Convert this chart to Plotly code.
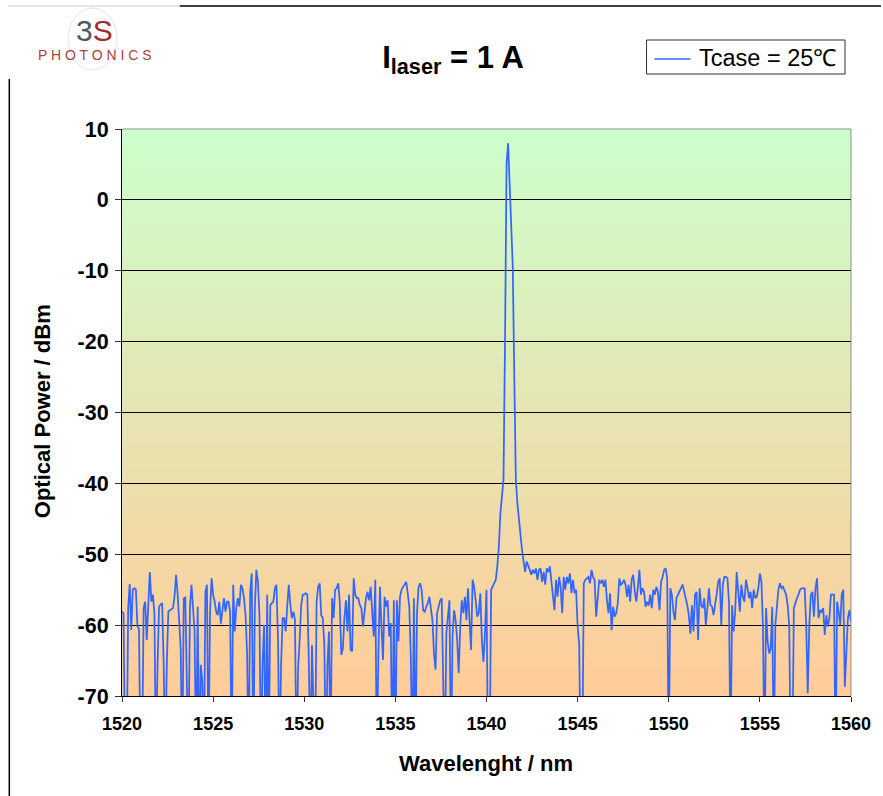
import numpy as np
import plotly.graph_objects as go

# ---------------- data ----------------
WL_START = 1520.0
WL_END = 1560.0

POWER_DBM = [
    # 1520 - 1533.5 nm
    -58.1, -58.3, -80, -80, -57.6, -54.2, -60.7, -55.0, -54.8, -55.0,
    -60.2, -60.5, -80, -80, -57.6, -56.7, -62.1, -56.7, -52.5, -56.7,
    -55.7, -58.3, -80, -65.6, -57.4, -57.1, -56.9, -65.6, -80, -65.6,
    -58.1, -57.9, -57.8, -57.6, -56.0, -52.9, -55.5, -60.5, -63.3, -80,
    -56.2, -56.1, -65.6, -80, -57.4, -54.3, -57.6, -60.9, -80, -57.4,
    -80, -65.6, -68.0, -80, -55.3, -54.3, -80, -58.1, -53.4, -55.7,
    -56.7, -58.1, -58.6, -56.7, -59.8, -57.6, -56.2, -58.1, -56.7, -56.7,
    -58.1, -80, -54.3, -60.9, -57.6, -56.2, -57.4, -54.3, -54.8, -56.2,
    -58.6, -64.0, -80, -55.3, -52.7, -80, -57.6, -52.2, -53.9, -58.6,
    -80, -65.6, -60.0, -80, -55.7, -80, -57.2, -56.9, -56.7, -54.8,
    -54.3, -61.9, -80, -65.6, -59.0, -59.0, -60.9, -57.2, -54.3, -57.2,
    -59.0, -58.1, -59.3, -80, -66.1, -62.3, -57.2, -55.7, -55.7, -55.5,
    -55.7, -65.6, -80, -62.8, -80, -80, -56.7, -54.6, -54.1, -58.6,
    -59.0, -62.8, -80, -65.6, -60.9, -80, -56.2, -59.0, -55.0, -54.8,
    -54.1, -56.7, -64.2, -63.3, -59.0, -56.5, -60.9, -55.7, -63.5, -63.7,
    -53.4, -55.7, -56.2, -56.2, -57.2, -57.6, -60.2, -58.1, -56.2, -55.3,
    # 1533.5 - 1547.3 nm (laser line)
    -56.5, -54.6, -58.3, -61.6, -53.6, -80, -64.0, -54.6, -60.2, -64.9,
    -56.0, -57.4, -56.5, -61.6, -59.7, -80, -56.5, -80, -56.5, -62.3,
    -56.0, -55.0, -54.6, -54.3, -53.9, -55.5, -57.4, -64.5, -80, -56.2,
    -80, -58.3, -54.6, -54.1, -55.0, -57.9, -58.1, -57.4, -56.9, -56.0,
    -58.1, -59.3, -64.0, -66.3, -58.3, -57.4, -56.5, -56.2, -80, -80,
    -61.2, -58.3, -56.5, -80, -61.6, -57.9, -59.3, -62.1, -66.8, -60.2,
    -56.5, -58.3, -56.0, -59.3, -54.8, -59.3, -63.5, -53.6, -54.6, -56.5,
    -58.8, -58.3, -55.5, -62.1, -65.2, -61.2, -55.0, -80, -80, -55.0,
    -54.6, -54.0, -53.6, -51.7, -48.9, -44.2, -41.4, -39.5,
    -20.0, 5.2, 8.0, 2.8, -3.0, -9.4, -25.0, -39.5, -42.8, -45.2,
    -47.5, -49.4, -51.0, -52.5, -51.0, -51.5, -52.2, -52.9, -52.2, -52.7,
    -52.0, -53.6, -52.2, -52.0, -53.9, -52.5, -54.3, -52.0, -52.5, -51.7,
    -53.6, -55.5, -57.9, -53.6, -56.0, -53.2, -54.6, -58.3, -53.2, -55.0,
    -53.2, -54.1, -52.7, -55.5, -53.6, -55.5, -55.0, -60.2, -62.6, -80,
    -80, -54.1, -53.6, -53.4, -53.2, -54.1, -52.2, -53.2, -53.6, -58.8,
    -55.5, -53.6, -54.1, -53.6, -54.6, -53.6, -56.5, -58.3, -55.5, -60.7,
    -57.4, -58.8, -58.3, -56.9,
    # 1547.3 - 1560 nm
    -53.4, -54.3, -54.1, -53.6, -54.3, -56.0, -54.3, -56.7, -53.6, -52.9,
    -55.3, -56.7, -54.6, -52.2, -55.7, -54.8, -55.3, -57.4, -56.7, -57.2,
    -55.7, -57.6, -55.0, -55.7, -54.6, -55.3, -57.9, -53.9, -53.2, -52.2,
    -52.0, -53.4, -80, -54.8, -55.7, -58.1, -59.3, -56.2, -55.7, -55.3,
    -54.8, -54.3, -55.3, -56.2, -57.2, -58.6, -61.2, -57.2, -60.9, -55.7,
    -55.3, -62.1, -54.8, -57.2, -57.6, -56.2, -60.0, -57.6, -54.8, -57.2,
    -57.4, -58.6, -56.7, -55.7, -53.9, -53.4, -60.0, -54.3, -53.2, -53.2,
    -53.4, -56.7, -80, -57.2, -60.9, -58.1, -52.5, -55.3, -58.1, -54.3,
    -56.0, -56.7, -53.6, -54.8, -56.2, -55.3, -57.6, -55.0, -56.2, -56.0,
    -54.8, -52.7, -53.9, -60.0, -80, -57.6, -62.3, -64.0, -63.3, -57.4,
    -80, -60.0, -57.2, -55.0, -54.1, -54.8, -54.6, -55.3, -55.7, -57.2,
    -60.0, -80, -80, -57.6, -56.7, -56.2, -55.7, -55.0, -54.8, -54.8,
    -54.8, -60.0, -69.6, -60.0, -55.7, -55.3, -58.8, -54.8, -53.4, -59.0,
    -57.9, -58.1, -57.6, -61.4, -58.6, -60.2, -59.0, -55.7, -55.7, -55.7,
    -80, -56.7, -58.1, -60.0, -55.7, -55.0, -68.7, -63.7, -59.0, -57.9,
    -59.5,
]

X_TICKS = [1520, 1525, 1530, 1535, 1540, 1545, 1550, 1555, 1560]
Y_TICKS = [10, 0, -10, -20, -30, -40, -50, -60, -70]
Y_TICK_LABELS = ["10", "0", "-10", "-20", "-30", "-40", "-50", "-60", "-70"]
SERIES_NAME = "Tcase = 25℃"
TITLE = "<b>I<sub>laser</sub> = 1 A</b>"
X_TITLE = "Wavelenght / nm"
Y_TITLE = "Optical Power / dBm"

wavelength = np.linspace(WL_START, WL_END, len(POWER_DBM))

# ---------------- layout helpers ----------------
W, H = 883, 796
L, R, T, B = 122, 30, 129, 100
PW, PH = W - L - R, H - T - B


def px(x):
    return (x - L) / PW


def py(y):
    return (H - B - y) / PH


FONT = "Liberation Sans, Arial, sans-serif"
LINE_COLOR = "#3366FF"
TOP_RGB = (204, 255, 204)
BOT_RGB = (255, 204, 153)

shapes = []
NB = 160
for i in range(NB):
    f = i / (NB - 1)
    c = tuple(round(BOT_RGB[k] + (TOP_RGB[k] - BOT_RGB[k]) * f) for k in range(3))
    shapes.append(dict(type="rect", xref="paper", yref="paper", x0=0, x1=1,
                       y0=i / NB, y1=min(1, (i + 1.6) / NB), layer="below",
                       line=dict(width=0), fillcolor="rgb(%d,%d,%d)" % c))
# gray top/right frame of plot area
shapes.append(dict(type="path", xref="paper", yref="paper", path="M 0,1 L 1,1 L 1,0",
                   line=dict(color="#8c8c8c", width=1), layer="above"))
# page decoration lines
shapes.append(dict(type="line", xref="paper", yref="paper", x0=px(8), x1=px(180), y0=py(6), y1=py(6),
                   line=dict(color="#dcdcdc", width=1.5)))
shapes.append(dict(type="line", xref="paper", yref="paper", x0=px(180), x1=px(883), y0=py(6), y1=py(6),
                   line=dict(color="#000000", width=1.5)))
shapes.append(dict(type="line", xref="paper", yref="paper", x0=px(9), x1=px(9), y0=py(79), y1=py(796),
                   line=dict(color="#000000", width=1.5)))
# logo ellipse
shapes.append(dict(type="circle", xref="paper", yref="paper", x0=px(68), x1=px(117), y0=py(8), y1=py(70),
                   line=dict(color="#e4e4e4", width=1)))
# legend box and line sample
shapes.append(dict(type="rect", xref="paper", yref="paper", x0=px(648), x1=px(847), y0=py(40), y1=py(74),
                   line=dict(color="#333333", width=1), fillcolor="white"))
shapes.append(dict(type="line", xref="paper", yref="paper", x0=px(656), x1=px(692), y0=py(59), y1=py(59),
                   line=dict(color=LINE_COLOR, width=1.7)))

fig = go.Figure()
fig.add_trace(go.Scatter(x=wavelength, y=POWER_DBM, mode="lines", name=SERIES_NAME,
                         line=dict(color=LINE_COLOR, width=1.75), showlegend=False))

annotations = [
    dict(text="<b>" + Y_TITLE + "</b>", xref="paper", yref="paper", x=px(42), y=py(411), textangle=-90,
         showarrow=False, font=dict(family=FONT, size=22, color="black"), xanchor="center", yanchor="middle"),
    dict(text="<b>" + X_TITLE + "</b>", xref="paper", yref="paper", x=px(487), y=py(763),
         showarrow=False, font=dict(family=FONT, size=22, color="black"), xanchor="center", yanchor="middle"),
    dict(text="<span style='color:#4d5862'>3</span><span style='color:#a52a2a'>S</span>",
         xref="paper", yref="paper", x=px(94), y=py(31), showarrow=False,
         font=dict(family=FONT, size=30), xanchor="center", yanchor="middle"),
    dict(text="P H O T O N I C S", xref="paper", yref="paper", x=px(95), y=py(55), showarrow=False,
         font=dict(family=FONT, size=14, color="#b04040"), xanchor="center", yanchor="middle"),
    dict(text=SERIES_NAME, xref="paper", yref="paper", x=px(699), y=py(58), showarrow=False,
         font=dict(family=FONT, size=23.5, color="black"), xanchor="left", yanchor="middle"),
]

fig.update_layout(
    width=W, height=H, autosize=False,
    margin=dict(l=L, r=R, t=T, b=B, pad=0),
    paper_bgcolor="white", plot_bgcolor="rgba(0,0,0,0)",
    font=dict(family=FONT, color="black"),
    title=dict(text=TITLE, x=453 / W, xref="container", xanchor="center",
               y=1 - 57 / H, yref="container", yanchor="middle",
               font=dict(family=FONT, size=31, color="black")),
    showlegend=False,
    shapes=shapes,
    annotations=annotations,
    xaxis=dict(range=[WL_START, WL_END], tickvals=X_TICKS,
               ticktext=["<b>%s</b>" % v for v in X_TICKS],
               showgrid=False, zeroline=False, showline=True, linecolor="black", linewidth=1,
               ticks="outside", ticklen=5, tickcolor="#333333", ticklabelstandoff=6,
               tickfont=dict(family=FONT, size=18, color="black"), fixedrange=True),
    yaxis=dict(range=[-70, 10], tickvals=Y_TICKS,
               ticktext=["<b>%s</b>" % s for s in Y_TICK_LABELS],
               showgrid=True, gridcolor="black", gridwidth=1, zeroline=False,
               showline=True, linecolor="black", linewidth=1,
               ticks="outside", ticklen=6, tickcolor="#333333", ticklabelstandoff=2,
               tickfont=dict(family=FONT, size=21.5, color="black"), fixedrange=True),
)

fig.write_html("out.html")
